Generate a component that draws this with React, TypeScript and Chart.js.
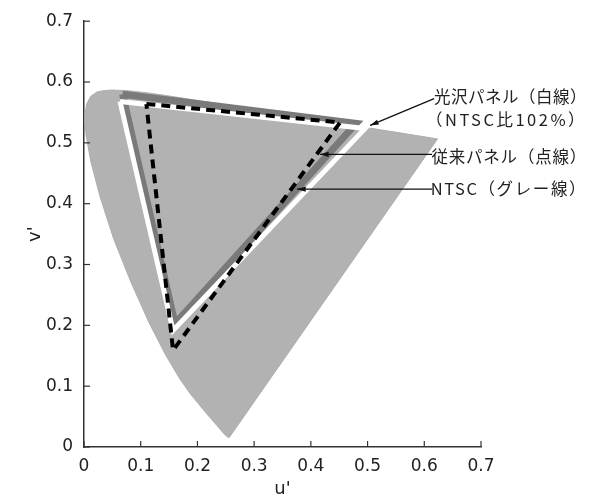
import React, { useEffect, useRef } from 'react';
import { Chart, registerables } from 'chart.js';

Chart.register(...registerables);

// Spectral locus (u', v')
const locusU = [0.2568, 0.2557, 0.2522, 0.2461, 0.2347, 0.2161, 0.1877, 0.169, 0.1441, 0.1147, 0.0828, 0.0521, 0.0282, 0.0119, 0.0035, 0.0014, 0.0046, 0.0123, 0.0231, 0.036, 0.0501, 0.0792, 0.1127, 0.1531, 0.2026, 0.2623, 0.3315, 0.4035, 0.5203, 0.583, 0.6234];
const locusV = [0.0166, 0.0159, 0.0169, 0.0226, 0.035, 0.0549, 0.0871, 0.1119, 0.151, 0.2044, 0.2708, 0.3427, 0.4117, 0.4698, 0.5131, 0.5432, 0.5638, 0.577, 0.5837, 0.5861, 0.5868, 0.5856, 0.5821, 0.5766, 0.5694, 0.5604, 0.5501, 0.5393, 0.5219, 0.5125, 0.5065];

// NTSC (gray line)
const ntscU = [0.068, 0.48, 0.1605];
const ntscV = [0.58, 0.532, 0.203];
// Conventional panel (dotted line)
const convU = [0.11, 0.4515, 0.157];
const convV = [0.564, 0.5335, 0.159];
// Glossy panel (white line)
const glossU = [0.0635, 0.4956, 0.157];
const glossV = [0.568, 0.5237, 0.1915];

const tickValues = [0, 0.1, 0.2, 0.3, 0.4, 0.5, 0.6, 0.7];

const noteTexts = ['光沢パネル（白線）', '（NTSC比102%）', '従来パネル（点線）', 'NTSC（グレー線）'];
const noteTextU = [0.8871, 0.8871, 0.8871, 0.8871];
const noteTextV = [0.5761, 0.5385, 0.4779, 0.4239];
// leader lines: tip (u,v) -> tail (u,v)
const leaderTipU = [0.5044, 0.4162, 0.3757];
const leaderTipV = [0.5286, 0.4812, 0.4239];
const leaderTailU = [0.6173, 0.6138, 0.6138];
const leaderTailV = [0.5728, 0.4812, 0.4239];

const noteSpacing = ['0.5px', '2.5px', '0.8px', '1.6px'];

const toPts = (u: number[], v: number[], close: boolean) => {
  const p = u.map((x, i) => ({ x, y: v[i] }));
  if (close) p.push({ ...p[0] });
  return p;
};

const annotationPlugin = {
  id: 'annot',
  afterDraw(chart: any) {
    const { ctx, scales } = chart;
    const xs = scales.x, ys = scales.y;
    ctx.save();
    // inward ticks
    ctx.strokeStyle = '#333';
    ctx.lineWidth = 1.2;
    const ca = chart.chartArea;
    tickValues.forEach((t) => {
      const px = xs.getPixelForValue(t);
      ctx.beginPath();
      ctx.moveTo(px, ca.bottom);
      ctx.lineTo(px, ca.bottom - 6);
      ctx.stroke();
      const py = ys.getPixelForValue(t);
      ctx.beginPath();
      ctx.moveTo(ca.left, py);
      ctx.lineTo(ca.left + 6, py);
      ctx.stroke();
    });
    // leaders
    ctx.strokeStyle = '#111';
    ctx.fillStyle = '#111';
    ctx.lineWidth = 1.3;
    leaderTipU.forEach((u, i) => {
      const x1 = xs.getPixelForValue(u), y1 = ys.getPixelForValue(leaderTipV[i]);
      const x2 = xs.getPixelForValue(leaderTailU[i]), y2 = ys.getPixelForValue(leaderTailV[i]);
      ctx.beginPath();
      ctx.moveTo(x1, y1);
      ctx.lineTo(x2, y2);
      ctx.stroke();
      const a = Math.atan2(y2 - y1, x2 - x1);
      const L = 9, W = 0.3;
      ctx.beginPath();
      ctx.moveTo(x1, y1);
      ctx.lineTo(x1 + L * Math.cos(a + W), y1 + L * Math.sin(a + W));
      ctx.lineTo(x1 + L * Math.cos(a - W), y1 + L * Math.sin(a - W));
      ctx.closePath();
      ctx.fill();
    });
    // texts
    ctx.font = '16.5px "Noto Sans CJK JP"';
    ctx.textAlign = 'right';
    ctx.textBaseline = 'middle';
    ctx.fillStyle = '#222';
    noteTexts.forEach((t, i) => {
      (ctx as any).letterSpacing = noteSpacing[i];
      ctx.fillText(t, xs.getPixelForValue(noteTextU[i]), ys.getPixelForValue(noteTextV[i]));
    });
    ctx.restore();
  },
};

const tickFont = { family: '"DejaVu Sans", sans-serif', size: 17 };
const fmt = (v: any) => (v === 0 ? '0' : Number(v).toFixed(1));

export default function App() {
  const ref = useRef<HTMLCanvasElement>(null);
  useEffect(() => {
    document.body.style.margin = '0';
    const chart = new Chart(ref.current as HTMLCanvasElement, {
      type: 'scatter',
      data: {
        datasets: [
          {
            data: toPts(convU, convV, true),
            showLine: true,
            borderColor: '#000',
            borderWidth: 4,
            borderDash: [9, 6],
            borderJoinStyle: 'miter',
            pointRadius: 0,
            fill: false,
            order: 1,
          } as any,
          {
            data: toPts(glossU, glossV, true),
            showLine: true,
            borderColor: '#ffffff',
            borderWidth: 5,
            borderJoinStyle: 'miter',
            pointRadius: 0,
            fill: false,
            order: 2,
          },
          {
            data: toPts(ntscU, ntscV, true),
            showLine: true,
            borderColor: '#7a7a7a',
            borderWidth: 7,
            borderJoinStyle: 'miter',
            pointRadius: 0,
            fill: false,
            order: 3,
          },
          {
            data: toPts(locusU, locusV, true),
            showLine: true,
            borderColor: '#aeaeae',
            borderWidth: 1,
            backgroundColor: '#b2b2b2',
            pointRadius: 0,
            fill: 'shape',
            tension: 0,
            order: 4,
          } as any,
        ],
      },
      options: {
        animation: false,
        responsive: false,
        events: [],
        layout: { padding: { top: 19, right: 120, left: 0, bottom: 0 } },
        plugins: { legend: { display: false }, tooltip: { enabled: false } },
        scales: {
          x: {
            type: 'linear',
            min: 0,
            max: 0.7,
            afterFit: (s: any) => { s.height = 55; },
            afterBuildTicks: (s: any) => { s.ticks = tickValues.map((v) => ({ value: v })); },
            grid: { display: true, drawOnChartArea: false, drawTicks: false },
            border: { display: true, color: '#333', width: 1.5 },
            ticks: { color: '#222', padding: 9, maxRotation: 0, font: tickFont, callback: fmt },
            title: { display: true, text: "u'", color: '#222', font: { family: '"DejaVu Sans", sans-serif', size: 18 }, padding: { top: 0, bottom: 2 } },
          },
          y: {
            type: 'linear',
            min: 0,
            max: 0.7,
            afterFit: (s: any) => { s.width = 84; },
            afterBuildTicks: (s: any) => { s.ticks = tickValues.map((v) => ({ value: v })); },
            grid: { display: true, drawOnChartArea: false, drawTicks: false },
            border: { display: true, color: '#333', width: 1.5 },
            ticks: { color: '#222', padding: 11, font: tickFont, callback: fmt },
            title: { display: true, text: "v'", color: '#222', font: { family: '"DejaVu Sans", sans-serif', size: 18 }, padding: { top: 25, bottom: 0 } },
          },
        },
      },
      plugins: [annotationPlugin],
    });
    return () => chart.destroy();
  }, []);
  return (
    <div style={{ width: 601, height: 502 }}>
      <canvas ref={ref} width={601} height={502} />
    </div>
  );
}
